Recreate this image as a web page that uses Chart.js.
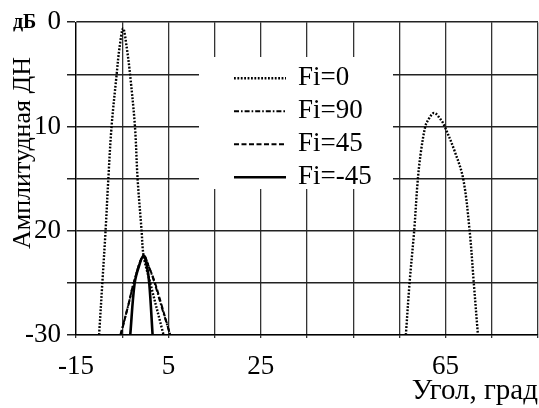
<!DOCTYPE html>
<html>
<head>
<meta charset="utf-8">
<script src="https://cdn.jsdelivr.net/npm/chart.js@4.4.1/dist/chart.umd.min.js"></script>
<style>
  html, body { margin: 0; padding: 0; background: #fff; }
  #wrap { width: 539px; height: 408px; }
</style>
</head>
<body>
<div id="wrap"><canvas id="chart"></canvas></div>
<script>
// values (angle in degrees, level in dB)
const fi0Angle  = [-10, -9.3, -8.6, -8.0, -7.3, -6.2, -5.6, -4.8, -4.0, -3.3, -2.24, -1.67, -0.8, -0.37, 1.07, 3.95,
                   20,
                   56.4, 57.2, 58.2, 59.0, 59.7, 60.6, 61.2, 62.5, 64.05, 64.8, 66.9, 68.8, 70.2, 71.1, 72.0];
const fi0Level  = [-30, -25, -20, -15, -10, -5, -2.5, -0.6, -2.5, -5, -10, -15, -20, -22.4, -25, -30,
                   null,
                   -30, -25, -20, -15, -12.3, -10, -9.4, -8.7, -9.4, -10, -12.3, -15, -20, -25, -30];
const fi90Angle = [-5.4, -3.6, -2.5, -0.4, 0.9, 2.0, 3.6, 5.4];
const fi90Level = [-30, -27, -25, -22.4, -23.6, -25, -27.4, -30];
const fi45Angle = [-5.3, -3.6, -2.5, -0.4, 0.9, 2.1, 3.7, 5.4];
const fi45Level = [-30, -27, -25, -22.4, -23.6, -25, -27.4, -30];
const fim45Angle = [-3.26, -2.3, -1.3, -0.4, 0.3, 0.85, 1.58];
const fim45Level = [-30, -25, -23.3, -22.4, -23.3, -25, -30];

const seriesNames = ['Fi=0', 'Fi=90', 'Fi=45', 'Fi=-45'];
const xLabels = [-15, 5, 25, 65];
const yLabels = { '0': '0', '-10': '10', '-20': '20', '-30': '-30' };

const serif = "'Liberation Serif', 'DejaVu Serif', serif";

function pts(xs, ys) {
    return xs.map((x, i) => ({ x: x, y: ys[i] }));
}

const datasets = [
    { label: seriesNames[0], data: pts(fi0Angle, fi0Level), borderDash: [1.8, 1.6], borderWidth: 2.4 },
    { label: seriesNames[1], data: pts(fi90Angle, fi90Level), borderDash: [5, 2, 1.6, 2], borderWidth: 2 },
    { label: seriesNames[2], data: pts(fi45Angle, fi45Level), borderDash: [5, 2.5], borderWidth: 2 },
    { label: seriesNames[3], data: pts(fim45Angle, fim45Level), borderDash: [], borderWidth: 2.6 }
].map(d => Object.assign(d, {
    borderColor: '#000',
    pointRadius: 0,
    fill: false,
    spanGaps: false,
    tension: 0.35
}));

// legend box inside the plot + axis captions
const extras = {
    id: 'extras',
    afterDatasetsDraw(chart) {
        const ctx = chart.ctx;
        ctx.save();
        ctx.fillStyle = '#fff';
        ctx.fillRect(199, 57, 194, 132);
        chart.data.datasets.forEach((ds, i) => {
            const y = 78.3 + i * 33;
            ctx.strokeStyle = '#000';
            ctx.lineWidth = ds.borderWidth;
            ctx.setLineDash(ds.borderDash);
            ctx.beginPath();
            ctx.moveTo(234, y);
            ctx.lineTo(286, y);
            ctx.stroke();
            ctx.setLineDash([]);
            ctx.fillStyle = '#000';
            ctx.font = '27px ' + serif;
            ctx.textAlign = 'left';
            ctx.textBaseline = 'middle';
            ctx.fillText(ds.label, 298, y);
        });

        ctx.fillStyle = '#000';
        ctx.font = '29px ' + serif;
        ctx.textBaseline = 'alphabetic';
        ctx.textAlign = 'right';
        ctx.fillText('Угол, град', 538, 399);

        ctx.save();
        ctx.translate(30, 153);
        ctx.rotate(-Math.PI / 2);
        ctx.font = '26px ' + serif;
        ctx.textAlign = 'center';
        ctx.fillText('Амплитудная ДН', 0, 0);
        ctx.restore();

        ctx.font = 'bold 20px ' + serif;
        ctx.textAlign = 'left';
        ctx.fillText('дБ', 13, 28);
        ctx.restore();
    }
};

new Chart(document.getElementById('chart'), {
    type: 'line',
    data: { datasets: datasets },
    plugins: [extras],
    options: {
        responsive: true,
        maintainAspectRatio: false,
        animation: false,
        layout: { padding: { top: 22, right: 1, left: 0, bottom: 0 } },
        plugins: { legend: { display: false }, tooltip: { enabled: false } },
        scales: {
            x: {
                type: 'linear',
                min: -15,
                max: 85,
                afterFit(scale) {
                    scale.height = 73;
                    scale.paddingLeft = 0;
                    scale.paddingRight = 0;
                },
                ticks: {
                    stepSize: 10,
                    autoSkip: false,
                    maxRotation: 0,
                    padding: 13,
                    color: '#000',
                    font: { family: serif, size: 27 },
                    callback: v => xLabels.includes(v) ? String(v) : ''
                },
                grid: { color: '#333', lineWidth: 1.3, tickLength: 3 },
                border: { display: true, color: '#000', width: 1.3 }
            },
            y: {
                min: -30,
                max: 0,
                afterFit(scale) { scale.width = 76; },
                ticks: {
                    stepSize: 5,
                    padding: 6,
                    color: '#000',
                    font: { family: serif, size: 27 },
                    callback: v => yLabels[String(v)] || ''
                },
                grid: { color: '#222', lineWidth: 1.5, tickLength: 9 },
                border: { display: true, color: '#000', width: 1.3 }
            }
        }
    }
});
</script>
</body>
</html>
